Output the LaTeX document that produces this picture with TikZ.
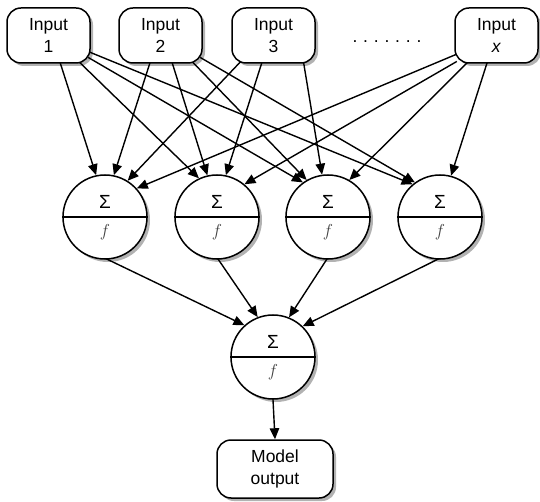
\documentclass[tikz,border=0pt]{standalone}
\usepackage{fontspec}
\setmainfont{Liberation Sans}
\usetikzlibrary{arrows.meta,shadows,backgrounds}
\begin{document}
\begin{tikzpicture}[x=1pt,y=-1pt,
  font=\fontsize{17.5}{22}\selectfont,
  shade/.style={drop shadow={shadow xshift=3pt,shadow yshift=-3pt,opacity=0.3,fill=black}},
  inbox/.style={draw,line width=1.5pt,fill=white,rounded corners=14pt,minimum width=83pt,minimum height=55pt,align=center,inner sep=2pt,shade},
  neuron/.style={draw,circle,line width=1.5pt,fill=white,minimum size=84pt,inner sep=0pt,shade},
  sig/.style={inner sep=0pt,font=\fontsize{19}{20}\selectfont},
  fsym/.style={inner sep=0pt,text=black!75,font=\fontsize{18}{20}\selectfont},
  conn/.style={line width=1.4pt,-{Triangle[length=11pt,width=9.5pt]},shorten <=-3pt}
]
\useasboundingbox (0,0) rectangle (540,502);

% input boxes
\node[inbox] (in1) at (48.5,35.5) {Input\\1};
\node[inbox] (in2) at (160.5,35.5) {Input\\2};
\node[inbox] (in3) at (273.5,35.5) {Input\\3};
\node[inbox] (inx) at (496.5,35.5) {Input\\\textit{x}};
\node[inner sep=0pt] (dots) at (387,42) {.\hspace{5.8pt}.\hspace{5.8pt}.\hspace{5.8pt}.\hspace{5.8pt}.\hspace{5.8pt}.\hspace{5.8pt}.};

% neurons
\foreach \n/\x/\y in {c1/105/217, c2/217/217, c3/328/217, c4/440/217, co/273/357} {
  \node[neuron] (\n) at (\x,\y) {};
  \draw[line width=1.5pt] (\n.west) -- (\n.east);
  \node[sig] (\n-s) at ([yshift=15pt]\n.center) {Σ};
  \node[fsym] (\n-f) at ([yshift=-15pt]\n.center) {$f$};
}

% output box
\node[inbox,minimum width=116pt,minimum height=58pt] (out) at (275,469) {Model\\output};

\begin{scope}[on background layer]
  \draw[conn] (in1.-67) -- (c1.102);
  \draw[conn] (in1.-41) -- (c2.115);
  \draw[conn] (in1.-29) -- (c3.126);
  \draw[conn] (in1.-22) -- (c4.130);
  \draw[conn] (in2.-111) -- (c1.78);
  \draw[conn] (in2.-67) -- (c2.103);
  \draw[conn] (in2.-40) -- (c3.120);
  \draw[conn] (in2.-29) -- (c4.126);
  \draw[conn] (in3.-141) -- (c1.58);
  \draw[conn] (in3.-113) -- (c2.78);
  \draw[conn] (in3.-43) -- (c3.98);
  \draw[conn] (inx.-155) -- (c1.42);
  \draw[conn] (inx.-147) -- (c2.50);
  \draw[conn] (inx.-137) -- (c3.60);
  \draw[conn] (inx.-109) -- (c4.75);
  \draw[conn] (c1.-86) -- (co.132);
  \draw[conn] (c2.-88) -- (co.111);
  \draw[conn] (c3.-92) -- (co.68);
  \draw[conn] (c4.-94) -- (co.46);
  \draw[conn] (co.south) -- (out.north);
\end{scope}
\end{tikzpicture}
\end{document}
